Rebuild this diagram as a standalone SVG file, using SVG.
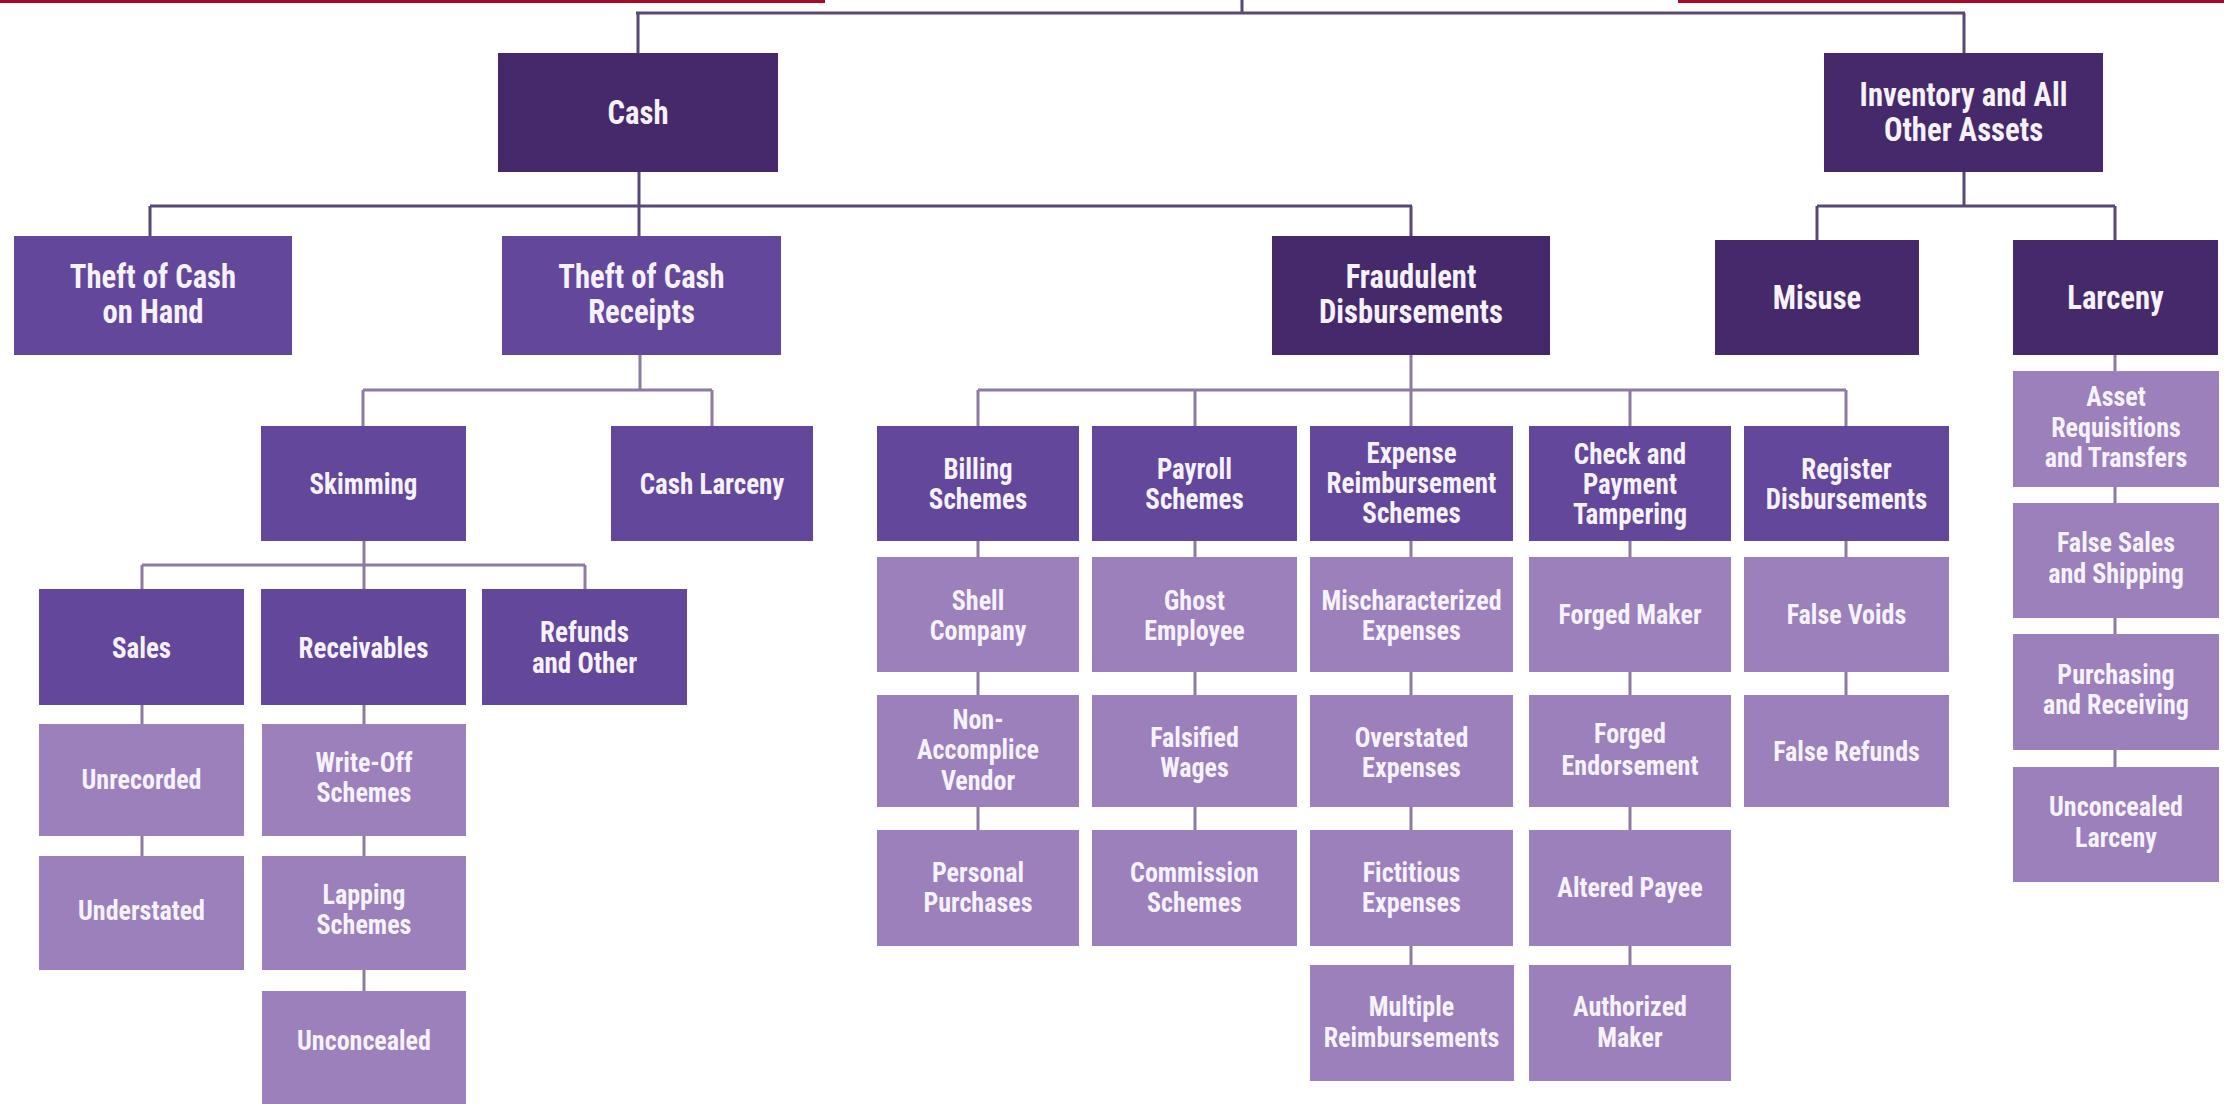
<svg xmlns="http://www.w3.org/2000/svg" width="2224" height="1104" viewBox="0 0 2224 1104">
<style>
.d{fill:#45296b}
.m{fill:#63479a}
.l{fill:#9b80bc}
text{font-family:"Roboto","Open Sans","Liberation Sans",sans-serif;font-stretch:75%;font-weight:700;fill:#f6f2fc;text-anchor:middle;transform-box:fill-box;transform-origin:center;transform:scaleX(0.93)}
.t1{font-size:33px}
.t2{font-size:29px}
.t3{font-size:28px}
.c1{stroke:#574876;stroke-width:3;fill:none}
.c2{stroke:#8b7ca0;stroke-width:3;fill:none}
</style>
<rect width="2224" height="1104" fill="#ffffff"/>
<rect x="0" y="0" width="825" height="3" fill="#a8072a"/>
<rect x="1678" y="0" width="546" height="3" fill="#a8072a"/>
<g id="connectors">
<path class="c1" d="M1242 0V13M636 13H1965M638 13V53M1964 13V53"/>
<path class="c1" d="M639 172V236M150 206H1412M150 206V236M1411 206V236"/>
<path class="c1" d="M1964 172V206M1817 206H2115M1817 206V240M2115 206V240"/>
<path class="c2" d="M2115 355V371M2115 487V503M2115 618V634M2115 750V767"/>
<path class="c2" d="M640 355V390M363 390H712M363 390V426M712 390V426"/>
<path class="c2" d="M364 541V589M142 565H585M142 565V589M585 565V589"/>
<path class="c2" d="M142 705V724M142 836V856M364 705V724M364 836V856M364 970V991"/>
<path class="c2" d="M1411 355V426M978 390H1846M978 390V426M1195 390V426M1630 390V426M1846 390V426"/>
<path class="c2" d="M978 541V557M978 672V695M978 807V830M1195 541V557M1195 672V695M1195 807V830"/>
<path class="c2" d="M1411 541V557M1411 672V695M1411 807V830M1411 946V965"/>
<path class="c2" d="M1630 541V557M1630 672V695M1630 807V830M1630 946V965"/>
<path class="c2" d="M1846 541V557M1846 672V695"/>
</g>
<g id="n-cash"><rect class="d" x="498" y="53" width="280" height="119"/><text class="t1" x="638" y="124">Cash</text></g>
<g id="n-inventory"><rect class="d" x="1824" y="53" width="279" height="119"/><text class="t1" x="1963.5" y="106"><tspan x="1963.5">Inventory and All</tspan><tspan x="1963.5" dy="35">Other Assets</tspan></text></g>
<g id="n-theft-hand"><rect class="m" x="14" y="236" width="278" height="119"/><text class="t1" x="153" y="288"><tspan x="153">Theft of Cash</tspan><tspan x="153" dy="35">on Hand</tspan></text></g>
<g id="n-theft-receipts"><rect class="m" x="502" y="236" width="279" height="119"/><text class="t1" x="641.5" y="288"><tspan x="641.5">Theft of Cash</tspan><tspan x="641.5" dy="35">Receipts</tspan></text></g>
<g id="n-fraud"><rect class="d" x="1272" y="236" width="278" height="119"/><text class="t1" x="1411" y="288"><tspan x="1411">Fraudulent</tspan><tspan x="1411" dy="35">Disbursements</tspan></text></g>
<g id="n-misuse"><rect class="d" x="1715" y="240" width="204" height="115"/><text class="t1" x="1817" y="309">Misuse</text></g>
<g id="n-larceny"><rect class="d" x="2013" y="240" width="205" height="115"/><text class="t1" x="2115.5" y="309">Larceny</text></g>
<g id="n-skimming"><rect class="m" x="261" y="426" width="205" height="115"/><text class="t2" x="363.5" y="494">Skimming</text></g>
<g id="n-cash-larceny"><rect class="m" x="611" y="426" width="202" height="115"/><text class="t2" x="712" y="494">Cash Larceny</text></g>
<g id="n-sales"><rect class="m" x="39" y="589" width="205" height="116"/><text class="t2" x="141.5" y="658">Sales</text></g>
<g id="n-receivables"><rect class="m" x="261" y="589" width="205" height="116"/><text class="t2" x="363.5" y="658">Receivables</text></g>
<g id="n-refunds"><rect class="m" x="482" y="589" width="205" height="116"/><text class="t2" x="584.5" y="642"><tspan x="584.5">Refunds</tspan><tspan x="584.5" dy="31">and Other</tspan></text></g>
<g id="n-unrecorded"><rect class="l" x="39" y="724" width="205" height="112"/><text class="t3" x="141.5" y="789">Unrecorded</text></g>
<g id="n-understated"><rect class="l" x="39" y="856" width="205" height="114"/><text class="t3" x="141.5" y="920">Understated</text></g>
<g id="n-writeoff"><rect class="l" x="262" y="724" width="204" height="112"/><text class="t3" x="364" y="772"><tspan x="364">Write-Off</tspan><tspan x="364" dy="30">Schemes</tspan></text></g>
<g id="n-lapping"><rect class="l" x="262" y="856" width="204" height="114"/><text class="t3" x="364" y="904"><tspan x="364">Lapping</tspan><tspan x="364" dy="30">Schemes</tspan></text></g>
<g id="n-unconcealed"><rect class="l" x="262" y="991" width="204" height="113"/><text class="t3" x="364" y="1050">Unconcealed</text></g>
<g id="n-billing"><rect class="m" x="877" y="426" width="202" height="115"/><text class="t2" x="978" y="479"><tspan x="978">Billing</tspan><tspan x="978" dy="30">Schemes</tspan></text></g>
<g id="n-payroll"><rect class="m" x="1092" y="426" width="205" height="115"/><text class="t2" x="1194.5" y="479"><tspan x="1194.5">Payroll</tspan><tspan x="1194.5" dy="30">Schemes</tspan></text></g>
<g id="n-expense"><rect class="m" x="1310" y="426" width="203" height="115"/><text class="t2" x="1411.5" y="463"><tspan x="1411.5">Expense</tspan><tspan x="1411.5" dy="30">Reimbursement</tspan><tspan x="1411.5" dy="30">Schemes</tspan></text></g>
<g id="n-check"><rect class="m" x="1529" y="426" width="202" height="115"/><text class="t2" x="1630" y="464"><tspan x="1630">Check and</tspan><tspan x="1630" dy="30">Payment</tspan><tspan x="1630" dy="30">Tampering</tspan></text></g>
<g id="n-register"><rect class="m" x="1744" y="426" width="205" height="115"/><text class="t2" x="1846.5" y="479"><tspan x="1846.5">Register</tspan><tspan x="1846.5" dy="30">Disbursements</tspan></text></g>
<g id="n-shell"><rect class="l" x="877" y="557" width="202" height="115"/><text class="t3" x="978" y="610"><tspan x="978">Shell</tspan><tspan x="978" dy="30">Company</tspan></text></g>
<g id="n-nonaccomplice"><rect class="l" x="877" y="695" width="202" height="112"/><text class="t3" x="978" y="729"><tspan x="978">Non-</tspan><tspan x="978" dy="30">Accomplice</tspan><tspan x="978" dy="31">Vendor</tspan></text></g>
<g id="n-personal"><rect class="l" x="877" y="830" width="202" height="116"/><text class="t3" x="978" y="882"><tspan x="978">Personal</tspan><tspan x="978" dy="30">Purchases</tspan></text></g>
<g id="n-ghost"><rect class="l" x="1092" y="557" width="205" height="115"/><text class="t3" x="1194.5" y="610"><tspan x="1194.5">Ghost</tspan><tspan x="1194.5" dy="30">Employee</tspan></text></g>
<g id="n-falsified"><rect class="l" x="1092" y="695" width="205" height="112"/><text class="t3" x="1194.5" y="747"><tspan x="1194.5">Falsified</tspan><tspan x="1194.5" dy="30">Wages</tspan></text></g>
<g id="n-commission"><rect class="l" x="1092" y="830" width="205" height="116"/><text class="t3" x="1194.5" y="882"><tspan x="1194.5">Commission</tspan><tspan x="1194.5" dy="30">Schemes</tspan></text></g>
<g id="n-mischar"><rect class="l" x="1310" y="557" width="203" height="115"/><text class="t3" x="1411.5" y="610"><tspan x="1411.5">Mischaracterized</tspan><tspan x="1411.5" dy="30">Expenses</tspan></text></g>
<g id="n-overstated"><rect class="l" x="1310" y="695" width="203" height="112"/><text class="t3" x="1411.5" y="747"><tspan x="1411.5">Overstated</tspan><tspan x="1411.5" dy="30">Expenses</tspan></text></g>
<g id="n-fictitious"><rect class="l" x="1310" y="830" width="203" height="116"/><text class="t3" x="1411.5" y="882"><tspan x="1411.5">Fictitious</tspan><tspan x="1411.5" dy="30">Expenses</tspan></text></g>
<g id="n-multiple"><rect class="l" x="1310" y="965" width="204" height="116"/><text class="t3" x="1411.5" y="1016"><tspan x="1411.5">Multiple</tspan><tspan x="1411.5" dy="31">Reimbursements</tspan></text></g>
<g id="n-forged-maker"><rect class="l" x="1529" y="557" width="202" height="115"/><text class="t3" x="1630" y="624">Forged Maker</text></g>
<g id="n-forged-endorsement"><rect class="l" x="1529" y="695" width="202" height="112"/><text class="t3" x="1630" y="743"><tspan x="1630">Forged</tspan><tspan x="1630" dy="32">Endorsement</tspan></text></g>
<g id="n-altered"><rect class="l" x="1529" y="830" width="202" height="116"/><text class="t3" x="1630" y="897">Altered Payee</text></g>
<g id="n-authorized"><rect class="l" x="1529" y="965" width="202" height="116"/><text class="t3" x="1630" y="1016"><tspan x="1630">Authorized</tspan><tspan x="1630" dy="31">Maker</tspan></text></g>
<g id="n-false-voids"><rect class="l" x="1744" y="557" width="205" height="115"/><text class="t3" x="1846.5" y="624">False Voids</text></g>
<g id="n-false-refunds"><rect class="l" x="1744" y="695" width="205" height="112"/><text class="t3" x="1846.5" y="761">False Refunds</text></g>
<g id="n-asset"><rect class="l" x="2013" y="371" width="206" height="116"/><text class="t3" x="2116" y="406"><tspan x="2116">Asset</tspan><tspan x="2116" dy="31">Requisitions</tspan><tspan x="2116" dy="30">and Transfers</tspan></text></g>
<g id="n-false-sales"><rect class="l" x="2013" y="503" width="206" height="115"/><text class="t3" x="2116" y="552"><tspan x="2116">False Sales</tspan><tspan x="2116" dy="31">and Shipping</tspan></text></g>
<g id="n-purchasing"><rect class="l" x="2013" y="634" width="206" height="116"/><text class="t3" x="2116" y="684"><tspan x="2116">Purchasing</tspan><tspan x="2116" dy="30">and Receiving</tspan></text></g>
<g id="n-unconcealed-larceny"><rect class="l" x="2013" y="767" width="206" height="115"/><text class="t3" x="2116" y="816"><tspan x="2116">Unconcealed</tspan><tspan x="2116" dy="31">Larceny</tspan></text></g>
</svg>
